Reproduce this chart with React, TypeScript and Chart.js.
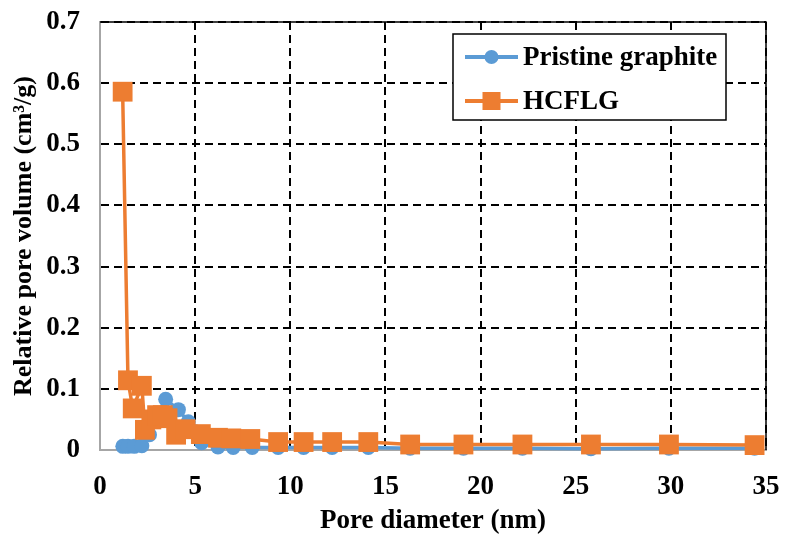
import React, { useEffect, useRef } from "react";
import { Chart, registerables } from "chart.js";

Chart.register(...registerables);

const pristineX = [1.2, 1.47, 1.8, 2.2, 2.6, 3.0, 3.45, 4.12, 4.64, 5.0, 5.34, 6.2, 7.0, 8.0, 9.36, 10.7, 12.2, 14.1, 16.3, 19.1, 22.2, 25.8, 29.9, 34.4];
const pristineY = [0.006, 0.006, 0.006, 0.007, 0.025, 0.055, 0.083, 0.066, 0.046, 0.03, 0.012, 0.005, 0.004, 0.004, 0.004, 0.004, 0.004, 0.004, 0.003, 0.003, 0.003, 0.002, 0.003, 0.003];

const hcflgX = [1.19, 1.47, 1.72, 2.2, 2.36, 2.7, 3.0, 3.3, 3.55, 4.0, 4.5, 5.3, 6.2, 6.9, 7.9, 9.36, 10.7, 12.2, 14.1, 16.3, 19.1, 22.2, 25.8, 29.9, 34.4];
const hcflgY = [0.586, 0.114, 0.068, 0.105, 0.033, 0.05, 0.057, 0.057, 0.052, 0.025, 0.034, 0.026, 0.02, 0.019, 0.018, 0.013, 0.013, 0.013, 0.013, 0.009, 0.009, 0.009, 0.009, 0.009, 0.008];

const seriesNames = ["Pristine graphite", "HCFLG"];
const xTitle = "Pore diameter (nm)";
const yTitle = "Relative pore volume (cm³/g)";

const BLUE = "#5B9BD5";
const ORANGE = "#ED7D31";
const FONT = "'Liberation Serif', 'Times New Roman', serif";

const framePlugin = {
  id: "frame",
  beforeDatasetsDraw(chart: any) {
    const { ctx, chartArea: a } = chart;
    ctx.save();
    ctx.strokeStyle = "#000";
    ctx.lineWidth = 1.5;
    ctx.beginPath();
    ctx.moveTo(a.left, a.top);
    ctx.lineTo(a.right, a.top);
    ctx.lineTo(a.right, a.bottom);
    ctx.stroke();
    ctx.restore();
  },
};

const legendPlugin = {
  id: "boxLegend",
  afterDraw(chart: any) {
    const { ctx, chartArea: a } = chart;
    const w = 273, h = 86;
    const x0 = a.right - 40 - w;
    const y0 = a.top + 12;
    ctx.save();
    ctx.fillStyle = "#fff";
    ctx.fillRect(x0, y0, w, h);
    ctx.strokeStyle = "#000";
    ctx.lineWidth = 1.5;
    ctx.strokeRect(x0, y0, w, h);
    const rows = [
      { y: y0 + 23, color: BLUE, style: "circle", r: 7 },
      { y: y0 + 67, color: ORANGE, style: "rect", r: 9 },
    ];
    rows.forEach((row, i) => {
      ctx.strokeStyle = row.color;
      ctx.lineWidth = 4;
      ctx.beginPath();
      ctx.moveTo(x0 + 12, row.y);
      ctx.lineTo(x0 + 65, row.y);
      ctx.stroke();
      ctx.fillStyle = row.color;
      const cx = x0 + 38.5;
      if (row.style === "circle") {
        ctx.beginPath();
        ctx.arc(cx, row.y, row.r, 0, Math.PI * 2);
        ctx.fill();
      } else {
        ctx.fillRect(cx - row.r, row.y - row.r, row.r * 2, row.r * 2);
      }
      ctx.fillStyle = "#000";
      ctx.font = `bold 27px ${FONT}`;
      ctx.textBaseline = "middle";
      ctx.textAlign = "left";
      ctx.fillText(seriesNames[i], x0 + 70, row.y + 1);
    });
    ctx.restore();
  },
};

export default function App() {
  const ref = useRef<HTMLCanvasElement>(null);
  useEffect(() => {
    document.body.style.margin = "0";
    const canvas = ref.current!;
    const chart = new Chart(canvas, {
      type: "line",
      data: {
        datasets: [
          {
            label: seriesNames[0],
            data: pristineX.map((x, i) => ({ x, y: pristineY[i] })),
            borderColor: BLUE,
            backgroundColor: BLUE,
            borderWidth: 3.5,
            pointStyle: "circle",
            pointRadius: 7.5,
            pointBorderWidth: 0,
            tension: 0,
            clip: false,
            order: 2,
          },
          {
            label: seriesNames[1],
            data: hcflgX.map((x, i) => ({ x, y: hcflgY[i] })),
            borderColor: ORANGE,
            backgroundColor: ORANGE,
            borderWidth: 3.5,
            pointStyle: "rect",
            pointRadius: 14,
            pointBorderWidth: 0,
            tension: 0,
            clip: false,
            order: 1,
          },
        ],
      },
      options: {
        animation: false,
        responsive: false,
        maintainAspectRatio: false,
        layout: { padding: { top: 22, right: 19, left: 0, bottom: 0 } },
        plugins: {
          legend: { display: false },
          tooltip: { enabled: false },
        },
        scales: {
          x: {
            type: "linear",
            min: 0,
            max: 35,
            afterFit(scale: any) {
              scale.height = 85;
              scale.paddingLeft = 0;
              scale.paddingRight = 0;
            },
            ticks: {
              stepSize: 5,
              color: "#000",
              font: { family: FONT, size: 27, weight: "bold" },
              padding: 21,
            },
            grid: {
              color: "#000",
              lineWidth: 2,
              drawTicks: false,
            },
            border: { display: true, color: "#a6a6a6", width: 2, dash: [8, 5] },
            title: {
              display: true,
              text: xTitle,
              color: "#000",
              font: { family: FONT, size: 27, weight: "bold", lineHeight: 1.05 },
              padding: { top: 0, bottom: 0 },
            },
          },
          y: {
            type: "linear",
            min: 0,
            max: 0.7,
            afterFit(scale: any) {
              scale.width = 100;
              scale.paddingTop = 0;
              scale.paddingBottom = 0;
            },
            ticks: {
              stepSize: 0.1,
              color: "#000",
              font: { family: FONT, size: 27, weight: "bold" },
              padding: 20,
              callback: (v: any) => (v === 0 ? "0" : Number(v).toFixed(1)),
            },
            grid: {
              color: "#000",
              lineWidth: 2,
              drawTicks: false,
            },
            border: { display: true, color: "#a6a6a6", width: 2, dash: [8, 5] },
            title: {
              display: true,
              text: yTitle,
              color: "#000",
              font: { family: FONT, size: 26, weight: "bold" },
              padding: { top: 9, bottom: 0 },
            },
          },
        },
      },
      plugins: [framePlugin, legendPlugin],
    });
    return () => chart.destroy();
  }, []);
  return (
    <canvas
      ref={ref}
      width={785}
      height={535}
      style={{ display: "block", width: 785, height: 535 }}
    />
  );
}
